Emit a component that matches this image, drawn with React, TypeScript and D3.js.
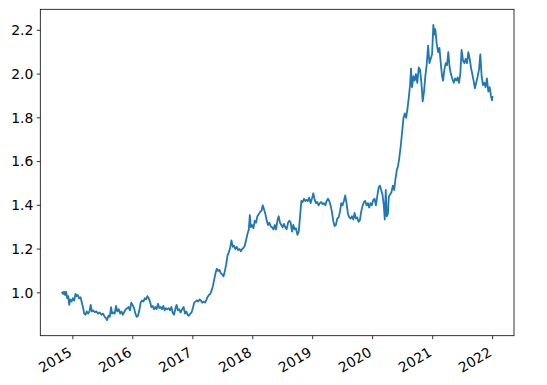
import React from 'react';
import * as d3 from 'd3';

// values, roughly every 8 days
const dates2014 = ['2014-10-26', '2014-11-03', '2014-11-09', '2014-11-15', '2014-11-21', '2014-11-28', '2014-12-04', '2014-12-10', '2014-12-16', '2014-12-24'];
const values2014 = [1.005, 0.995, 1.005, 0.99, 1.005, 0.975, 0.985, 0.945, 0.97, 0.96];

const dates2015 = [
    '2015-01-01', '2015-01-09', '2015-01-17', '2015-01-23', '2015-01-31',
    '2015-02-08', '2015-02-17', '2015-02-25',
    '2015-03-05', '2015-03-11', '2015-03-19', '2015-03-27',
    '2015-04-04', '2015-04-12', '2015-04-20', '2015-04-26',
    '2015-05-05', '2015-05-15', '2015-05-25',
    '2015-06-04', '2015-06-14', '2015-06-24',
    '2015-07-04', '2015-07-14', '2015-07-22', '2015-07-28',
    '2015-08-06', '2015-08-14', '2015-08-22', '2015-08-28',
    '2015-09-05', '2015-09-13', '2015-09-21', '2015-09-29',
    '2015-10-08', '2015-10-16', '2015-10-24',
    '2015-11-01', '2015-11-09', '2015-11-19', '2015-11-29',
    '2015-12-07', '2015-12-15', '2015-12-23', '2015-12-31'];
const values2015 = [
    0.975, 0.965, 0.995, 0.985, 0.99,
    0.975, 0.98, 0.955,
    0.93, 0.905, 0.90, 0.915,
    0.905, 0.915, 0.945, 0.915,
    0.92, 0.912, 0.915,
    0.905, 0.91, 0.90,
    0.905, 0.89, 0.885, 0.875,
    0.895, 0.89, 0.935, 0.905,
    0.91, 0.905, 0.94, 0.915,
    0.925, 0.905, 0.915,
    0.90, 0.91, 0.925, 0.93,
    0.935, 0.92, 0.955, 0.945];

const dates2016 = [
    '2016-01-09', '2016-01-17', '2016-01-25',
    '2016-02-02', '2016-02-10', '2016-02-18', '2016-02-26',
    '2016-03-06', '2016-03-14', '2016-03-22', '2016-03-30',
    '2016-04-07', '2016-04-15', '2016-04-23',
    '2016-05-01', '2016-05-09', '2016-05-17', '2016-05-25',
    '2016-06-03', '2016-06-11', '2016-06-19', '2016-06-27',
    '2016-07-05', '2016-07-13', '2016-07-21', '2016-07-29',
    '2016-08-07', '2016-08-15', '2016-08-23', '2016-08-31',
    '2016-09-08', '2016-09-16', '2016-09-24',
    '2016-10-02', '2016-10-10', '2016-10-18', '2016-10-28',
    '2016-11-06', '2016-11-14', '2016-11-22', '2016-11-30',
    '2016-12-08', '2016-12-16', '2016-12-24'];
const values2016 = [
    0.93, 0.905, 0.89,
    0.895, 0.92, 0.955, 0.965,
    0.96, 0.975, 0.97, 0.985,
    0.975, 0.96, 0.935,
    0.94, 0.925, 0.935, 0.925,
    0.95, 0.93, 0.935, 0.925,
    0.94, 0.92, 0.93, 0.925,
    0.93, 0.92, 0.935, 0.91,
    0.90, 0.925, 0.945,
    0.92, 0.925, 0.91, 0.925,
    0.935, 0.905, 0.915, 0.90,
    0.895, 0.905, 0.91];

const dates2017 = [
    '2017-01-01', '2017-01-09', '2017-01-17', '2017-01-25',
    '2017-02-03', '2017-02-11', '2017-02-19', '2017-02-27',
    '2017-03-07', '2017-03-15', '2017-03-23', '2017-03-31',
    '2017-04-09', '2017-04-17', '2017-04-25',
    '2017-05-03', '2017-05-11', '2017-05-19', '2017-05-27',
    '2017-06-04', '2017-06-12', '2017-06-20', '2017-06-28',
    '2017-07-07', '2017-07-15', '2017-07-23', '2017-07-31',
    '2017-08-08', '2017-08-16', '2017-08-24',
    '2017-09-01', '2017-09-09', '2017-09-17', '2017-09-25',
    '2017-10-04', '2017-10-12', '2017-10-20', '2017-10-28',
    '2017-11-05', '2017-11-13', '2017-11-21', '2017-11-30',
    '2017-12-08', '2017-12-14', '2017-12-20', '2017-12-28'];
const values2017 = [
    0.93, 0.955, 0.96, 0.965,
    0.96, 0.97, 0.965, 0.955,
    0.96, 0.955, 0.965, 0.98,
    0.99, 0.995, 1.01,
    1.03, 1.06, 1.09, 1.11,
    1.10, 1.105, 1.09, 1.085,
    1.075, 1.10, 1.13, 1.17,
    1.185, 1.205, 1.24,
    1.21, 1.215, 1.20, 1.21,
    1.195, 1.20, 1.19, 1.20,
    1.205, 1.215, 1.24, 1.27,
    1.29, 1.355, 1.30, 1.31];

const dates2018 = [
    '2018-01-05', '2018-01-13', '2018-01-21', '2018-01-29',
    '2018-02-07', '2018-02-15', '2018-02-23',
    '2018-03-03', '2018-03-11', '2018-03-19', '2018-03-27',
    '2018-04-04', '2018-04-12', '2018-04-20', '2018-04-28',
    '2018-05-07', '2018-05-15', '2018-05-23', '2018-05-31',
    '2018-06-08', '2018-06-16', '2018-06-24',
    '2018-07-02', '2018-07-10', '2018-07-18', '2018-07-26',
    '2018-08-04', '2018-08-12', '2018-08-20', '2018-08-28',
    '2018-09-05', '2018-09-13', '2018-09-21', '2018-09-30',
    '2018-10-08', '2018-10-16', '2018-10-24',
    '2018-11-01', '2018-11-09', '2018-11-17', '2018-11-25',
    '2018-12-03', '2018-12-11', '2018-12-19', '2018-12-27'];
const values2018 = [
    1.295, 1.33, 1.32, 1.35,
    1.36, 1.37, 1.375,
    1.40, 1.38, 1.36, 1.33,
    1.31, 1.32, 1.305, 1.30,
    1.29, 1.31, 1.29, 1.33,
    1.35, 1.32, 1.31,
    1.30, 1.315, 1.30, 1.29,
    1.32, 1.33, 1.32, 1.28,
    1.31, 1.29, 1.295, 1.265,
    1.28, 1.35, 1.42,
    1.415, 1.43, 1.42, 1.425,
    1.42, 1.435, 1.41, 1.43];

const dates2019 = [
    '2019-01-05', '2019-01-13', '2019-01-21', '2019-01-29',
    '2019-02-06', '2019-02-14', '2019-02-22',
    '2019-03-03', '2019-03-11', '2019-03-19', '2019-03-27',
    '2019-04-04', '2019-04-12', '2019-04-20', '2019-04-28',
    '2019-05-06', '2019-05-14', '2019-05-22', '2019-05-31',
    '2019-06-08', '2019-06-16', '2019-06-24',
    '2019-07-02', '2019-07-10', '2019-07-18', '2019-07-26',
    '2019-08-04', '2019-08-12', '2019-08-20', '2019-08-28',
    '2019-09-05', '2019-09-13', '2019-09-21', '2019-09-29',
    '2019-10-07', '2019-10-15', '2019-10-23', '2019-10-31',
    '2019-11-09', '2019-11-17', '2019-11-25',
    '2019-12-03', '2019-12-11', '2019-12-19', '2019-12-27'];
const values2019 = [
    1.455, 1.425, 1.41, 1.415,
    1.40, 1.41, 1.415,
    1.405, 1.41, 1.40, 1.42,
    1.43, 1.42, 1.40, 1.37,
    1.33, 1.305, 1.31, 1.34,
    1.345, 1.37, 1.41,
    1.40, 1.42, 1.445, 1.41,
    1.36, 1.345, 1.34, 1.35,
    1.335, 1.365, 1.34, 1.345,
    1.325, 1.33, 1.37, 1.395,
    1.415, 1.42, 1.40,
    1.41, 1.39, 1.41, 1.40];

const dates2020 = [
    '2020-01-05', '2020-01-13', '2020-01-21', '2020-01-29',
    '2020-02-06', '2020-02-14', '2020-02-22',
    '2020-03-01', '2020-03-09', '2020-03-15', '2020-03-21', '2020-03-27',
    '2020-04-03', '2020-04-09', '2020-04-17', '2020-04-25',
    '2020-05-03', '2020-05-11', '2020-05-19', '2020-05-27',
    '2020-06-04', '2020-06-12', '2020-06-20', '2020-06-28',
    '2020-07-07', '2020-07-15', '2020-07-23', '2020-07-31',
    '2020-08-08', '2020-08-16', '2020-08-22', '2020-08-28',
    '2020-09-06', '2020-09-13', '2020-09-21', '2020-09-29',
    '2020-10-08', '2020-10-16', '2020-10-24',
    '2020-11-01', '2020-11-09', '2020-11-17', '2020-11-25',
    '2020-12-04', '2020-12-12', '2020-12-20', '2020-12-28'];
const values2020 = [
    1.425, 1.43, 1.40, 1.44,
    1.48, 1.49, 1.47,
    1.45, 1.40, 1.335, 1.47, 1.35,
    1.36, 1.44, 1.45, 1.46,
    1.49, 1.47, 1.52, 1.56,
    1.58, 1.62, 1.67, 1.73,
    1.80, 1.82, 1.80, 1.84,
    1.89, 1.95, 2.025, 1.94,
    1.99, 1.97, 2.00, 1.96,
    2.03, 2.02, 1.96,
    1.875, 1.92, 1.99, 2.04,
    2.13, 2.05, 2.07, 2.09];

const dates2021 = [
    '2021-01-05', '2021-01-11', '2021-01-17', '2021-01-25',
    '2021-02-03', '2021-02-11', '2021-02-19', '2021-02-27',
    '2021-03-05', '2021-03-13', '2021-03-21', '2021-03-29',
    '2021-04-06', '2021-04-14', '2021-04-22', '2021-04-30',
    '2021-05-09', '2021-05-17', '2021-05-25',
    '2021-06-02', '2021-06-10', '2021-06-18', '2021-06-26',
    '2021-07-05', '2021-07-13', '2021-07-21', '2021-07-29',
    '2021-08-06', '2021-08-14', '2021-08-22', '2021-08-30',
    '2021-09-07', '2021-09-15', '2021-09-23',
    '2021-10-02', '2021-10-10', '2021-10-18', '2021-10-26',
    '2021-11-03', '2021-11-11', '2021-11-19', '2021-11-27',
    '2021-12-06', '2021-12-14', '2021-12-22', '2021-12-28', '2021-12-31'];
const values2021 = [
    2.225, 2.18, 2.205, 2.14,
    2.10, 2.12, 2.05, 1.99,
    1.97, 2.02, 2.05, 2.04,
    2.10, 2.03, 2.00, 1.98,
    1.96, 1.98, 1.97,
    1.985, 1.96, 2.00, 2.11,
    2.06, 2.05, 2.07, 2.05,
    2.10, 2.07, 2.03, 2.00,
    1.97, 1.935, 1.96,
    1.99, 2.02, 2.09, 1.99,
    1.95, 1.96, 1.94, 1.98,
    1.92, 1.94, 1.90, 1.88, 1.90];

const dates = [...dates2014, ...dates2015, ...dates2016, ...dates2017, ...dates2018, ...dates2019, ...dates2020, ...dates2021];
const values = [...values2014, ...values2015, ...values2016, ...values2017, ...values2018, ...values2019, ...values2020, ...values2021];

const xTickYears = [2015, 2016, 2017, 2018, 2019, 2020, 2021, 2022];
const yTicks = [1.0, 1.2, 1.4, 1.6, 1.8, 2.0, 2.2];

const W = 547;
const H = 385;
const margin = { top: 9.3, right: 33, bottom: 49.3, left: 40.3 };
const FONT = '"DejaVu Sans", sans-serif';

export default function App() {
    const parse = d3.timeParse('%Y-%m-%d');
    const data = dates.map((d, i) => ({ date: parse(d) as Date, value: values[i] }));

    // matplotlib style 5% padding on x
    const [d0, d1] = d3.extent(data, d => d.date) as [Date, Date];
    const pad = (d1.getTime() - d0.getTime()) * 0.05;

    const x = d3.scaleTime()
        .domain([new Date(d0.getTime() - pad), new Date(d1.getTime() + pad)])
        .range([margin.left, W - margin.right]);

    const y = d3.scaleLinear()
        .domain([0.804, 2.296])
        .range([H - margin.bottom, margin.top]);

    const line = d3.line<{ date: Date; value: number }>()
        .x(d => x(d.date))
        .y(d => y(d.value));

    const bottom = H - margin.bottom;

    return (
        <svg width={W} height={H} style={{ position: 'absolute', left: 0, top: 0, background: '#fff' }}>
            <path d={line(data) || ''} fill="none" stroke="#1f77b4" strokeWidth={1.8} strokeLinejoin="round" />

            <rect x={margin.left} y={margin.top} width={W - margin.right - margin.left} height={bottom - margin.top}
                fill="none" stroke="#000" strokeWidth={0.8} />

            {yTicks.map(t => (
                <g key={t}>
                    <line x1={margin.left - 3.5} x2={margin.left} y1={y(t)} y2={y(t)} stroke="#000" strokeWidth={0.8} />
                    <text x={margin.left - 7} y={y(t)} dy="0.35em" textAnchor="end"
                        fontFamily={FONT} fontSize={13.9} fill="#000">{t.toFixed(1)}</text>
                </g>
            ))}

            {xTickYears.map(yr => {
                const px = x(new Date(yr, 0, 1));
                return (
                    <g key={yr}>
                        <line x1={px} x2={px} y1={bottom} y2={bottom + 3.5} stroke="#000" strokeWidth={0.8} />
                        <text transform={`translate(${px},${bottom + 19.5}) rotate(-30)`} textAnchor="end"
                            fontFamily={FONT} fontSize={13.9} fill="#000">{yr}</text>
                    </g>
                );
            })}
        </svg>
    );
}
